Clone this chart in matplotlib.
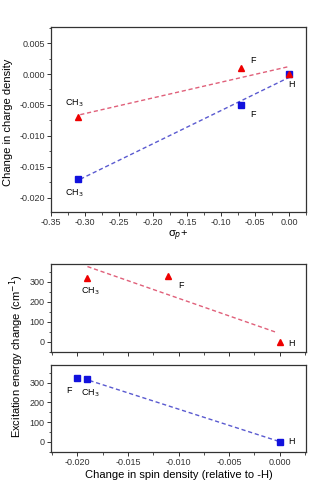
import numpy as np
import matplotlib
matplotlib.use("Agg")
import matplotlib.pyplot as plt
from matplotlib.ticker import MultipleLocator, FormatStrFormatter

plt.rcParams['font.family'] = ['Liberation Sans', 'DejaVu Sans']

# Panel 1: change in charge density vs sigma_p+
sigma = [-0.31, -0.07, 0.0]
charge_red = [-0.007, 0.001, 0.0]
charge_blue = [-0.017, -0.005, 0.0]
labels = ["CH$_3$", "F", "H"]

# Panel 2 & 3: excitation energy change vs change in spin density
spin_red = [-0.019, -0.011, 0.0]
exc_red = [320, 330, 0]
labels_red = ["CH$_3$", "F", "H"]
spin_blue = [-0.020, -0.019, 0.0]
exc_blue = [325, 320, 0]
labels_blue = ["F", "CH$_3$", "H"]

RED = '#ee0000'
BLUE = '#1111dd'
RED_LINE = '#e0607a'
BLUE_LINE = '#5a5ad0'
SPINE = '#333333'

fig = plt.figure(figsize=(3.10, 4.86), dpi=100)
ax1 = fig.add_axes([0.1645, 0.5638, 0.823, 0.3807])
ax2 = fig.add_axes([0.1645, 0.2757, 0.823, 0.181])
ax3 = fig.add_axes([0.1645, 0.070, 0.823, 0.1784])

def style(ax):
    for s in ax.spines.values():
        s.set_color(SPINE)
        s.set_linewidth(0.9)
    ax.tick_params(which='both', direction='out', labelsize=6.5, colors=SPINE,
                   top=False, right=False, pad=1.5)
    ax.tick_params(which='major', length=3, width=0.7)
    ax.tick_params(which='minor', length=1.8, width=0.6)

def fitline(ax, x, y, color, xr):
    k, b = np.polyfit(x, y, 1)
    xs = np.array(xr)
    ax.plot(xs, k * xs + b, ls=(0, (3, 2)), color=color, lw=1.0, zorder=1)

# Panel 1
fitline(ax1, sigma, charge_red, RED_LINE, [-0.307, 0.0])
fitline(ax1, sigma, charge_blue, BLUE_LINE, [-0.307, 0.0])
ax1.plot(sigma, charge_blue, 's', color=BLUE, ms=4.5, zorder=3)
ax1.plot(sigma, charge_red, '^', color=RED, ms=5, zorder=3)
ax1.set_xlim(-0.35, 0.025)
ax1.set_ylim(-0.0223, 0.0076)
ax1.xaxis.set_major_locator(MultipleLocator(0.05))
ax1.xaxis.set_minor_locator(MultipleLocator(0.025))
ax1.yaxis.set_major_locator(MultipleLocator(0.005))
ax1.yaxis.set_minor_locator(MultipleLocator(0.0025))
ax1.xaxis.set_major_formatter(FormatStrFormatter('%.2f'))
ax1.yaxis.set_major_formatter(FormatStrFormatter('%.3f'))
style(ax1)
fig.text(0.026, 0.749, "Change in charge density", rotation=90,
         fontsize=8, ha='center', va='center')
ax1.set_xlabel("σ$_p$+", fontsize=8, labelpad=1)
fs = 6.5
ax1.annotate(labels[0], (sigma[0], charge_red[0]), xytext=(-3, 6), textcoords='offset points', fontsize=fs, ha='center', va='bottom')
ax1.annotate(labels[1], (sigma[1], charge_red[1]), xytext=(6, 2), textcoords='offset points', fontsize=fs, ha='left', va='bottom')
ax1.annotate(labels[2], (sigma[2], charge_red[2]), xytext=(2, -4), textcoords='offset points', fontsize=fs, ha='center', va='top')
ax1.annotate(labels[1], (sigma[1], charge_blue[1]), xytext=(6, -4), textcoords='offset points', fontsize=fs, ha='left', va='top')
ax1.annotate(labels[0], (sigma[0], charge_blue[0]), xytext=(-3, -6), textcoords='offset points', fontsize=fs, ha='center', va='top')

# Panel 2
fitline(ax2, spin_red, exc_red, RED_LINE, [-0.019, -0.0003])
ax2.plot(spin_red, exc_red, '^', color=RED, ms=5, zorder=3)
# Panel 3
fitline(ax3, spin_blue, exc_blue, BLUE_LINE, [-0.0188, 0.0])
ax3.plot(spin_blue, exc_blue, 's', color=BLUE, ms=4.5, zorder=3)

for ax in (ax2, ax3):
    ax.set_xlim(-0.0226, 0.0026)
    ax.set_ylim(-52, 388)
    ax.xaxis.set_major_locator(MultipleLocator(0.005))
    ax.xaxis.set_minor_locator(MultipleLocator(0.0025))
    ax.yaxis.set_major_locator(MultipleLocator(100))
    ax.yaxis.set_minor_locator(MultipleLocator(50))
    ax.xaxis.set_major_formatter(FormatStrFormatter('%.3f'))
    style(ax)
ax2.tick_params(axis='x', labelbottom=False)

ax2.annotate(labels_red[0], (spin_red[0], exc_red[0]), xytext=(2, -6), textcoords='offset points', fontsize=fs, ha='center', va='top')
ax2.annotate(labels_red[1], (spin_red[1], exc_red[1]), xytext=(7, -4), textcoords='offset points', fontsize=fs, ha='left', va='top')
ax2.annotate(labels_red[2], (spin_red[2], exc_red[2]), xytext=(6, -1), textcoords='offset points', fontsize=fs, ha='left', va='center')
ax3.annotate(labels_blue[0], (spin_blue[0], exc_blue[0]), xytext=(-6, -6), textcoords='offset points', fontsize=fs, ha='center', va='top')
ax3.annotate(labels_blue[1], (spin_blue[1], exc_blue[1]), xytext=(2, -6), textcoords='offset points', fontsize=fs, ha='center', va='top')
ax3.annotate(labels_blue[2], (spin_blue[2], exc_blue[2]), xytext=(6, 0), textcoords='offset points', fontsize=fs, ha='left', va='center')

ax3.set_xlabel("Change in spin density (relative to -H)", fontsize=8, labelpad=2)
fig.text(0.055, 0.266, "Excitation energy change (cm$^{-1}$)", rotation=90,
         fontsize=8, ha='center', va='center')

fig.savefig("out.png", dpi=100)
